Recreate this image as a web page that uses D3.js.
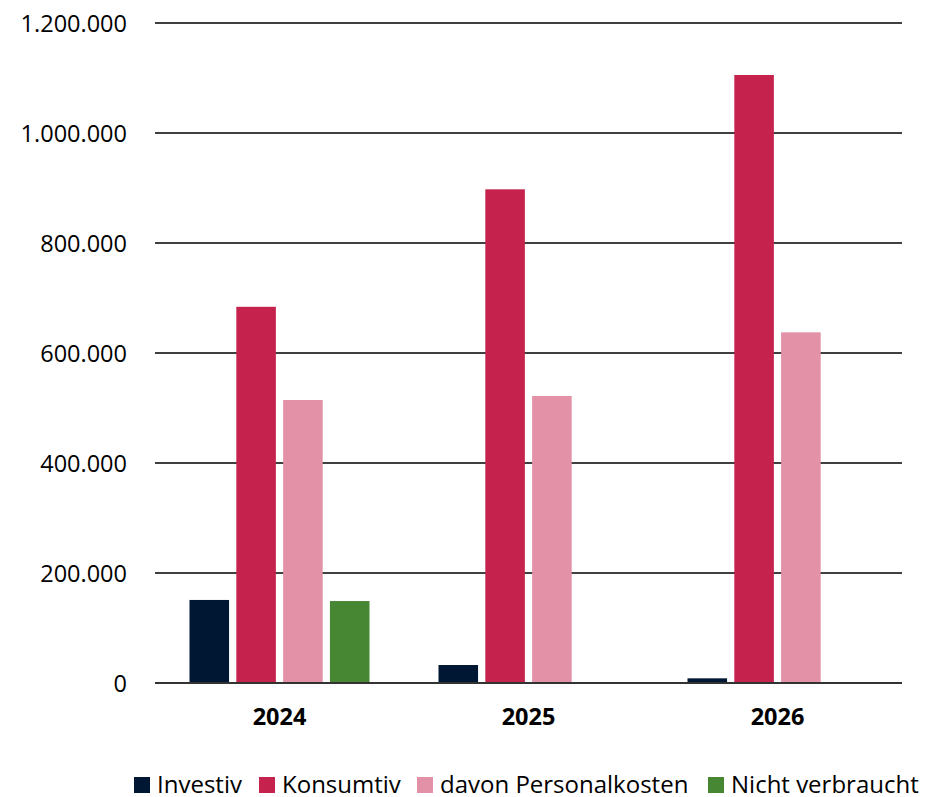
<!DOCTYPE html>
<html><head><meta charset="utf-8">
<script src="https://cdn.jsdelivr.net/npm/d3@7/dist/d3.min.js"></script>
<style>body{margin:0;background:#fff}svg{display:block}text{font-family:"Open Sans",Lato,sans-serif}</style>
</head><body>
<svg id="c" width="929" height="797"></svg>
<script>
const categories = ["2024","2025","2026"];
const seriesNames = ["Investiv","Konsumtiv","davon Personalkosten","Nicht verbraucht"];
const investiv = [151000, 32700, 8500];
const konsumtiv = [684000, 897600, 1105500];
const personal = [514500, 521800, 637600];
const nichtVerbraucht = [149000, null, null];
const yTicks = [0,200000,400000,600000,800000,1000000,1200000];
const colors = ["#001733","#c5234e","#e291a6","#478633"];

const seriesValues = [investiv, konsumtiv, personal, nichtVerbraucht];
const svg = d3.select("#c");
const pLeft = 155, pRight = 902, pTop = 23, pBottom = 683;
const x0 = d3.scaleBand().domain(categories).range([pLeft, pRight]).padding(0);
const bw = x0.bandwidth();
const grp = 180;
const x1 = d3.scaleBand().domain(seriesNames).range([(bw-grp)/2, bw-(bw-grp)/2]).paddingInner(0.155).paddingOuter(0);
const y = d3.scaleLinear().domain([0,1200000]).range([pBottom, pTop]);
const fmt = v => d3.format(",")(v).replace(/,/g, ".");

// gridlines
svg.append("g").selectAll("line").data(yTicks.filter(t=>t>0)).join("line")
  .attr("x1", pLeft).attr("x2", pRight)
  .attr("y1", d=>y(d)).attr("y2", d=>y(d))
  .attr("stroke", "#000").attr("stroke-width", 1.3);

// bars
const g = svg.append("g");
categories.forEach((c, ci) => {
  seriesNames.forEach((s, si) => {
    const v = seriesValues[si][ci];
    if (v == null) return;
    g.append("rect")
      .attr("x", x0(c) + x1(s))
      .attr("width", x1.bandwidth())
      .attr("y", y(v))
      .attr("height", y(0) - y(v))
      .attr("fill", colors[si]);
  });
});

// baseline
svg.append("line").attr("x1", pLeft).attr("x2", pRight)
  .attr("y1", y(0)).attr("y2", y(0)).attr("stroke", "#333").attr("stroke-width", 2);

// y labels
const yAxis = d3.axisLeft(y).tickValues(yTicks).tickSize(0).tickPadding(0).tickFormat(fmt);
const ya = svg.append("g").attr("transform", `translate(${127},0)`).call(yAxis);
ya.select(".domain").remove();
ya.selectAll("text").attr("font-size", 23.5).attr("fill", "#000").attr("font-family","Open Sans").attr("dy","0.35em");

// x labels
const xAxis = d3.axisBottom(x0).tickSize(0).tickPadding(0);
const xa = svg.append("g").attr("transform", `translate(0,${725})`).call(xAxis);
xa.select(".domain").remove();
xa.selectAll("text").attr("font-size", 23.5).attr("font-weight", "bold").attr("fill", "#000").attr("font-family","Open Sans").attr("dy","0");

// legend
const legendX = [134, 259, 417, 708];
const lg = svg.append("g");
seriesNames.forEach((s, i) => {
  lg.append("rect").attr("x", legendX[i]).attr("y", 777).attr("width", 16).attr("height", 16).attr("fill", colors[i]);
  lg.append("text").attr("x", legendX[i] + 23).attr("y", 793).attr("font-size", 24).attr("fill", "#000").text(s);
});
</script>
</body></html>
